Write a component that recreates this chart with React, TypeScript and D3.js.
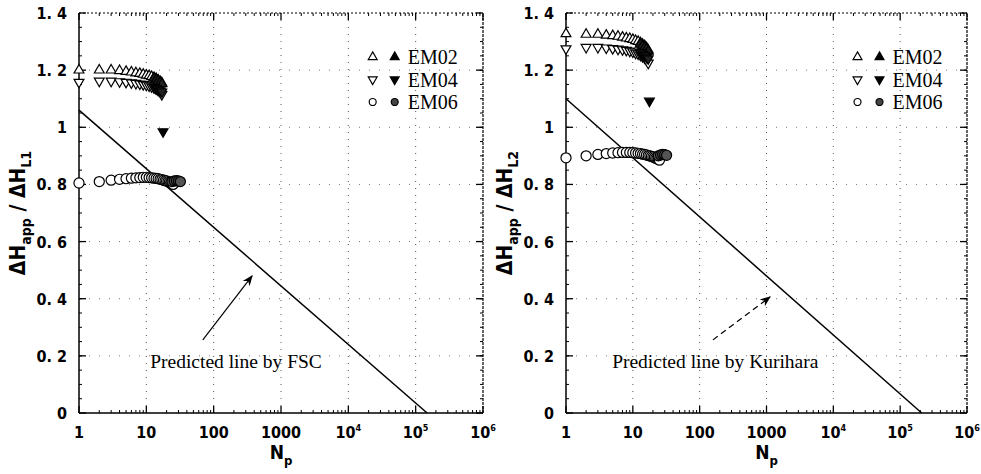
import { scaleLinear, scaleLog, symbol, symbolCircle, symbolTriangle } from "d3";

const W = 981;
const H = 474;

const npTri = [1, 2, 3, 4, 5, 6, 7, 8, 9, 10, 11, 12, 13, 14, 15, 16, 17];
const npCirc = [1, 2, 3, 4, 5, 6, 7, 8, 9, 10, 11, 12, 13, 14, 15, 16, 17, 18, 19, 20, 21, 22, 23, 24, 25];
const npFilledTri = [13, 14, 15, 16, 17];
const npFilledCirc = [24, 26, 28, 30, 32];

// left panel (L1 / FSC)
const em02L = [1.2, 1.2, 1.2, 1.198, 1.195, 1.193, 1.19, 1.188, 1.185, 1.182, 1.18, 1.177, 1.173, 1.17, 1.165, 1.16, 1.155];
const em04L = [1.158, 1.162, 1.162, 1.16, 1.158, 1.156, 1.154, 1.152, 1.15, 1.148, 1.145, 1.142, 1.139, 1.135, 1.13, 1.125, 1.115];
const em06L = [0.805, 0.81, 0.815, 0.818, 0.82, 0.822, 0.823, 0.824, 0.825, 0.825, 0.824, 0.823, 0.822, 0.821, 0.82, 0.818, 0.817, 0.815, 0.813, 0.812, 0.81, 0.808, 0.806, 0.803, 0.8];
const em02FilledL = [1.172, 1.167, 1.162, 1.157, 1.152];
const em04FilledL = [1.14, 1.136, 1.132, 1.128, 1.124];
const em06FilledL = [0.81, 0.812, 0.813, 0.812, 0.81];
const em04OutlierL = [17.7, 0.985];
const lineL = [[1, 1.06], [1.48e5, 0]];

// right panel (L2 / Kurihara)
const em02R = [1.327, 1.325, 1.325, 1.322, 1.32, 1.318, 1.315, 1.312, 1.31, 1.307, 1.303, 1.3, 1.295, 1.29, 1.285, 1.278, 1.27];
const em04R = [1.275, 1.28, 1.28, 1.278, 1.276, 1.274, 1.272, 1.27, 1.267, 1.264, 1.26, 1.257, 1.253, 1.248, 1.243, 1.236, 1.225];
const em06R = [0.893, 0.9, 0.905, 0.908, 0.91, 0.911, 0.912, 0.912, 0.912, 0.911, 0.91, 0.909, 0.908, 0.906, 0.905, 0.903, 0.901, 0.9, 0.898, 0.896, 0.894, 0.892, 0.89, 0.888, 0.885];
const em02FilledR = [1.29, 1.285, 1.28, 1.274, 1.266];
const em04FilledR = [1.262, 1.257, 1.252, 1.246, 1.24];
const em06FilledR = [0.9, 0.903, 0.905, 0.904, 0.902];
const em04OutlierR = [17.7, 1.092];
const lineR = [[1, 1.1], [2.1e5, 0]];

const xTicks = [1, 10, 100, 1000, 1e4, 1e5, 1e6];
const yTicks = [0, 0.2, 0.4, 0.6, 0.8, 1, 1.2, 1.4];
const legendNames = ["EM02", "EM04", "EM06"];

const tickFont = "'Liberation Sans Narrow', 'DejaVu Sans Condensed', 'Arial Narrow', sans-serif";
const serif = "'Liberation Serif', 'Times New Roman', serif";

const triUp = symbol(symbolTriangle, 42)();
const triSmall = symbol(symbolTriangle, 34)();
const circ = symbol(symbolCircle, 80)();
const circSmall = symbol(symbolCircle, 38)();

const yFmt = (v: number) => (v === 0 ? "0" : v === 1 ? "1" : v.toFixed(1).replace(".", ". "));

function Panel({ x0, x1, em02, em04, em06, f02, f04, f06, outlier, predicted, sub, note, arrow, dashedArrow, id }: any) {
  const x = scaleLog().domain([1, 1e6]).range([x0, x1]);
  const y = scaleLinear().domain([0, 1.4]).range([413, 13]);
  const [ya, yb] = y.range();
  const minorX: number[] = [];
  for (let d = 1; d < 1e6; d *= 10) for (let k = 2; k < 10; k++) minorX.push(d * k);
  const minorY: number[] = [];
  for (let v = 0.05; v < 1.4; v += 0.05) minorY.push(+v.toFixed(2));
  const mk = (d: string, px: number, py: number, fill: string, rot = 0, key?: any) => (
    <path key={key} d={d} transform={`translate(${px},${py}) rotate(${rot})`} fill={fill} stroke="#000" strokeWidth={1.2} />
  );
  const lx = x(2.3e4);
  return (
    <g>
      <defs>
        <marker id={`ah${id}`} viewBox="0 0 10 10" refX="9" refY="5" markerWidth="9" markerHeight="9" orient="auto">
          <path d="M0,1 L10,5 L0,9 L3,5 Z" fill="#000" />
        </marker>
      </defs>
      {/* grid */}
      {xTicks.slice(1, -1).map((t) => (
        <line key={`gx${t}`} x1={x(t)} x2={x(t)} y1={ya} y2={yb} stroke="#555" strokeDasharray="1 6" />
      ))}
      {yTicks.slice(1, -1).map((t) => (
        <line key={`gy${t}`} x1={x0} x2={x1} y1={y(t)} y2={y(t)} stroke="#777" strokeDasharray="1 9" />
      ))}
      {/* frame */}
      <line x1={x0} x2={x0} y1={ya} y2={yb} stroke="#000" strokeWidth={1.5} />
      <line x1={x0} x2={x1} y1={ya} y2={ya} stroke="#000" strokeWidth={1.5} />
      <line x1={x1} x2={x1} y1={ya} y2={yb} stroke="#000" strokeWidth={1.2} strokeDasharray="3 1" />
      <line x1={x0} x2={x1} y1={yb} y2={yb} stroke="#000" strokeWidth={1.2} strokeDasharray="2 2" />
      {minorX.map((t) => (
        <g key={`mx${t}`}>
          <line x1={x(t)} x2={x(t)} y1={ya} y2={ya - 3} stroke="#000" />
          <line x1={x(t)} x2={x(t)} y1={yb} y2={yb + 3} stroke="#000" />
        </g>
      ))}
      {xTicks.map((t) => (
        <g key={`tx${t}`}>
          <line x1={x(t)} x2={x(t)} y1={ya} y2={ya - 7} stroke="#000" strokeWidth={1.3} />
          <line x1={x(t)} x2={x(t)} y1={yb} y2={yb + 7} stroke="#000" strokeWidth={1.3} />
          <text x={x(t)} y={ya + 25} textAnchor="middle" fontFamily={tickFont} fontWeight="bold" fontSize={16}>
            {t < 1e4 ? String(t) : "10"}
            {t >= 1e4 ? <tspan dy={-7} fontSize={9}>{Math.log10(t)}</tspan> : null}
          </text>
        </g>
      ))}
      {minorY.map((t) => (
        <g key={`my${t}`}>
          <line x1={x0} x2={x0 + 3} y1={y(t)} y2={y(t)} stroke="#000" />
          <line x1={x1} x2={x1 - 3} y1={y(t)} y2={y(t)} stroke="#000" />
        </g>
      ))}
      {yTicks.map((t) => (
        <g key={`ty${t}`}>
          <line x1={x0} x2={x0 + 7} y1={y(t)} y2={y(t)} stroke="#000" strokeWidth={1.3} />
          <line x1={x1} x2={x1 - 7} y1={y(t)} y2={y(t)} stroke="#000" strokeWidth={1.3} />
          <text x={x0 - 12} y={y(t) + 6} textAnchor="end" fontFamily={tickFont} fontWeight="bold" fontSize={16}>
            {yFmt(t)}
          </text>
        </g>
      ))}
      {/* axis titles */}
      <text x={(x0 + x1) / 2} y={459} textAnchor="middle" fontFamily={tickFont} fontWeight="bold" fontSize={19}>
        N<tspan dy={6} fontSize={13}>p</tspan>
      </text>
      <text transform={`translate(${x0 - 54},${y(0.7)}) rotate(-90)`} textAnchor="middle" fontFamily={tickFont} fontWeight="bold" fontSize={21}>
        ΔH<tspan dy={6} fontSize={14}>app</tspan>
        <tspan dy={-6}> / ΔH</tspan>
        <tspan dy={6} fontSize={14}>{sub}</tspan>
      </text>
      {/* predicted line */}
      <line x1={x(predicted[0][0])} y1={y(predicted[0][1])} x2={x(predicted[1][0])} y2={y(predicted[1][1])} stroke="#000" strokeWidth={1.5} />
      {/* data */}
      {em06.map((v: number, i: number) => mk(circ, x(npCirc[i]), y(v), "#fff", 0, `c${i}`))}
      {f06.map((v: number, i: number) => mk(circ, x(npFilledCirc[i]), y(v), "#555", 0, `fc${i}`))}
      {em02.map((v: number, i: number) => mk(triUp, x(npTri[i]), y(v), "#fff", 0, `u${i}`))}
      {f02.map((v: number, i: number) => mk(triUp, x(npFilledTri[i]), y(v), "#222", 0, `fu${i}`))}
      {em04.map((v: number, i: number) => mk(triUp, x(npTri[i]), y(v), "#fff", 180, `d${i}`))}
      {f04.map((v: number, i: number) => mk(triUp, x(npFilledTri[i]), y(v), "#222", 180, `fd${i}`))}
      {mk(triUp, x(outlier[0]), y(outlier[1]), "#000", 180, "out")}
      {/* legend */}
      {legendNames.map((name, i) => {
        const ly = 57 + i * 22.5;
        const open = i === 2 ? circSmall : triSmall;
        const rot = i === 1 ? 180 : 0;
        return (
          <g key={name}>
            <path d={open} transform={`translate(${lx},${ly}) rotate(${rot})`} fill="#fff" stroke="#000" strokeWidth={1.2} />
            <path d={open} transform={`translate(${lx + 22},${ly}) rotate(${rot})`} fill={i === 2 ? "#444" : "#000"} stroke="#000" strokeWidth={1.2} />
            <text x={lx + 35} y={ly + 7} fontFamily={serif} fontSize={20}>{name}</text>
          </g>
        );
      })}
      {/* annotation */}
      <line x1={x(arrow[0][0])} y1={y(arrow[0][1])} x2={x(arrow[1][0])} y2={y(arrow[1][1])} stroke="#000" strokeWidth={1.2}
        strokeDasharray={dashedArrow ? "6 4" : undefined} markerEnd={`url(#ah${id})`} />
      <text x={x(note[0])} y={y(note[1])} fontFamily={serif} fontSize={19.5}>{note[2]}</text>
    </g>
  );
}

export default function App() {
  return (
    <svg width={W} height={H} style={{ position: "absolute", left: 0, top: 0, background: "#fff" }}>
      <Panel id="L" x0={79} x1={483} em02={em02L} em04={em04L} em06={em06L} f02={em02FilledL} f04={em04FilledL} f06={em06FilledL}
        outlier={em04OutlierL} predicted={lineL} sub="L1" note={[11.4, 0.158, "Predicted line by FSC"]}
        arrow={[[69, 0.256], [372, 0.48]]} dashedArrow={false} />
      <Panel id="R" x0={566} x1={967} em02={em02R} em04={em04R} em06={em06R} f02={em02FilledR} f04={em04FilledR} f06={em06FilledR}
        outlier={em04OutlierR} predicted={lineR} sub="L2" note={[4.9, 0.158, "Predicted line by Kurihara"]}
        arrow={[[158, 0.256], [1130, 0.406]]} dashedArrow={true} />
    </svg>
  );
}
